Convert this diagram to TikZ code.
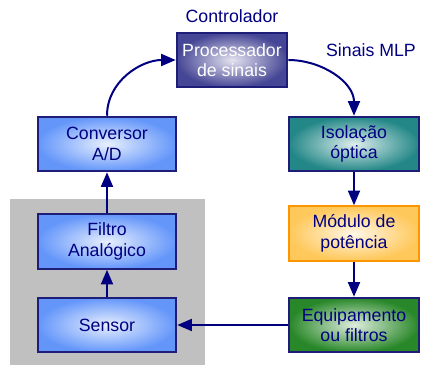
\documentclass[tikz,border=0pt]{standalone}
\usepackage{fontspec}
\setmainfont{Liberation Sans}
\usepackage{tikz}
\usetikzlibrary{arrows.meta,positioning}
\definecolor{LineNavy}{RGB}{0,0,128}
\definecolor{EdgeNavy}{RGB}{30,30,120}
\definecolor{BlockBlue}{RGB}{100,150,250}
\definecolor{BlockSlate}{RGB}{70,70,150}
\definecolor{BlockTeal}{RGB}{35,135,135}
\definecolor{BlockGold}{RGB}{255,200,90}
\definecolor{EdgeGold}{RGB}{255,150,0}
\definecolor{BlockGreen}{RGB}{40,135,40}
\definecolor{ShadeGray}{RGB}{192,192,192}

\begin{document}
\begin{tikzpicture}[
  x=0.75pt, y=-0.75pt,
  every node/.style={font=\fontsize{13.3}{15.5}\selectfont, text=LineNavy},
  blk/.style={
    rectangle,
    draw=EdgeNavy,
    line width=1.4pt,
    inner color=white!85!#1,
    outer color=#1,
    align=center,
    minimum width=104pt,
    minimum height=41pt
  },
  rel/.style={-{Triangle[length=11pt,width=9pt]}, line width=1.5pt, draw=LineNavy}
]
\useasboundingbox (0,0) rectangle (421,365);
\fill[ShadeGray] (10,199) rectangle (205,365);

% left column
\node[blk=BlockBlue] (conv) at (107,144) {Conversor\\A/D};
\node[blk=BlockBlue] (filtro) at (107,241.5) {Filtro\\Analógico};
\node[blk=BlockBlue] (sensor) at (107,325) {Sensor};

% controller
\node[blk=BlockSlate, minimum width=83pt, text=white] (proc) at (232,60) {Processador\\de sinais};
\node (ctrl) at (232,16) {Controlador};
\node (mlp) at (371,50) {Sinais MLP};

% right column
\node[blk=BlockTeal, minimum width=98pt] (isol) at (354,144) {Isolação\\óptica};
\node[blk=BlockGold, draw=EdgeGold, minimum width=98pt] (modulo) at (354,233.5) {Módulo de\\potência};
\node[blk=BlockGreen, minimum width=98pt] (equip) at (354,325) {Equipamento\\ou filtros};

\draw[rel] (sensor) -- (filtro);
\draw[rel] (filtro) -- (conv);
\draw[rel] (conv.north) to[out=90, in=180] (proc.west);
\draw[rel] (proc.east) to[out=0, in=90] (isol.north);
\draw[rel] (isol) -- (modulo);
\draw[rel] (modulo) -- (equip);
\draw[rel] (equip) -- (sensor);
\end{tikzpicture}
\end{document}
